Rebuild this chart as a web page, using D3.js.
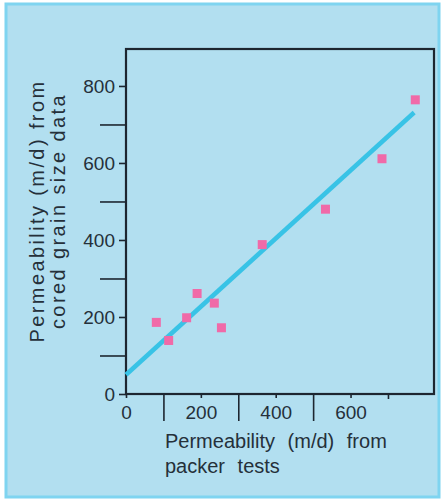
<!DOCTYPE html>
<html>
<head>
<meta charset="utf-8">
<script src="https://cdn.jsdelivr.net/npm/d3@7"></script>
<style>
  body { margin: 0; background: #fff; }
  text { font-family: "Liberation Sans", Arial, sans-serif; fill: #25303a; }
</style>
</head>
<body>
<div id="chart"></div>
<script>
// packer test permeability (x) vs cored grain size permeability (y), m/d
var packerK = [81, 114, 162, 190, 236, 255, 364, 533, 684, 773];
var coredK  = [186, 139, 198, 261, 236, 172, 388, 480, 611, 764];

// fitted line, end points
var fitX = [0, 770];
var fitY = [50, 731];

var yLabelTicks = [0, 200, 400, 600, 800];
var yPlainTicks = [100, 300, 500, 700];
var xLabelTicks = [0, 200, 400, 600];
var xLongTicks  = [100, 300, 500];
var xShortTicks = [700];

var width = 442,
    height = 503;

var plot = {left: 126, top: 49, right: 434, bottom: 394};

var x = d3.scaleLinear().domain([0, 823]).range([plot.left, plot.right]);
var y = d3.scaleLinear().domain([0, 896]).range([plot.bottom, plot.top]);

var svg = d3.select("#chart").append("svg")
    .attr("width", width)
    .attr("height", height);

// card background
svg.append("rect")
    .attr("x", 6).attr("y", 4)
    .attr("width", 433).attr("height", 493)
    .attr("fill", "#b2dff0")
    .attr("stroke", "#7fd4f0")
    .attr("stroke-width", 3);

var ink = "#1d2630";

// y axis: labelled ticks are short, the in-between ones long
var yAxis = svg.append("g")
    .attr("transform", "translate(" + plot.left + ",0)")
    .call(d3.axisLeft(y).tickValues(yLabelTicks).tickSize(7).tickPadding(4));
yAxis.selectAll("text").style("font-size", "19px").attr("fill", "#25303a");

svg.append("g")
    .attr("transform", "translate(" + plot.left + ",0)")
    .call(d3.axisLeft(y).tickValues(yPlainTicks).tickSize(26).tickFormat(""));

// x axis
var xAxis = svg.append("g")
    .attr("transform", "translate(0," + plot.bottom + ")")
    .call(d3.axisBottom(x).tickValues(xLabelTicks).tickSize(4).tickPadding(8));
xAxis.selectAll("text").style("font-size", "19px").attr("fill", "#25303a");

svg.append("g")
    .attr("transform", "translate(0," + plot.bottom + ")")
    .call(d3.axisBottom(x).tickValues(xLongTicks).tickSize(27).tickFormat(""));

svg.append("g")
    .attr("transform", "translate(0," + plot.bottom + ")")
    .call(d3.axisBottom(x).tickValues(xShortTicks).tickSize(5).tickFormat(""));

svg.selectAll(".domain").remove();
svg.selectAll(".tick line").attr("stroke", ink).attr("stroke-width", 1.6);

// plot frame
svg.append("rect")
    .attr("x", plot.left).attr("y", plot.top)
    .attr("width", plot.right - plot.left)
    .attr("height", plot.bottom - plot.top)
    .attr("fill", "none")
    .attr("stroke", ink)
    .attr("stroke-width", 2.2);

// regression line
var line = d3.line()
    .x(function(d) { return x(d[0]); })
    .y(function(d) { return y(d[1]); });

svg.append("path")
    .datum(d3.zip(fitX, fitY))
    .attr("d", line)
    .attr("fill", "none")
    .attr("stroke", "#38c3e6")
    .attr("stroke-width", 4.5);

// points as squares
var sq = 9;
svg.selectAll("rect.pt")
    .data(d3.zip(packerK, coredK)).enter().append("rect")
    .attr("class", "pt")
    .attr("x", function(d) { return x(d[0]) - sq / 2; })
    .attr("y", function(d) { return y(d[1]) - sq / 2; })
    .attr("width", sq).attr("height", sq)
    .attr("fill", "#f06aa8");

// axis titles
var xt = svg.append("text")
    .attr("x", 165).attr("y", 448)
    .style("font-size", "20px")
    .style("word-spacing", "7px");
xt.append("tspan").attr("x", 165).text("Permeability (m/d) from");
xt.append("tspan").attr("x", 165).attr("dy", 25).text("packer tests");

var yt = svg.append("text")
    .attr("transform", "translate(44,211) rotate(-90)")
    .attr("text-anchor", "middle")
    .style("font-size", "20px")
    .style("letter-spacing", "2.4px");
yt.append("tspan").attr("x", 0).attr("y", 0).text("Permeability (m/d) from");
yt.append("tspan").attr("x", 0).attr("y", 21).text("cored grain size data");
</script>
</body>
</html>
